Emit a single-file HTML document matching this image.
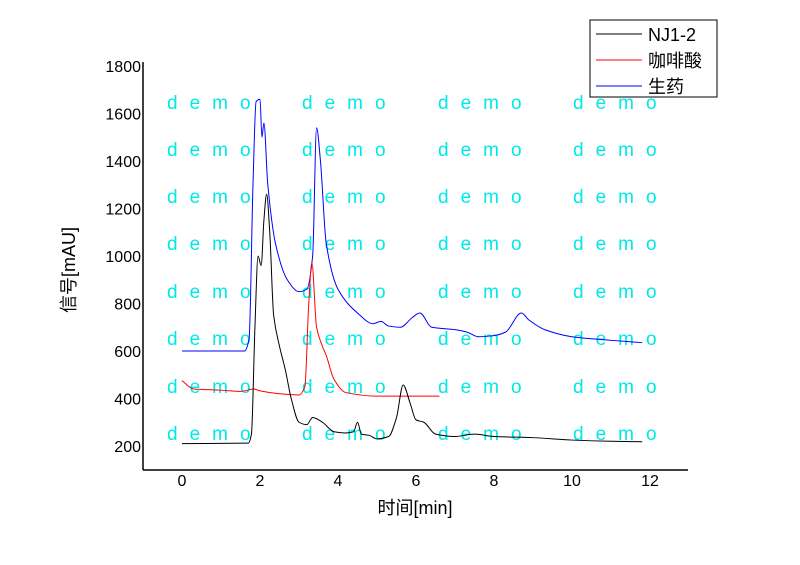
<!DOCTYPE html>
<html><head><meta charset="utf-8"><style>
body{margin:0;background:#fff}
svg{display:block;font-family:"Liberation Sans","Noto Sans CJK SC",sans-serif}
</style></head><body>
<svg id="c" width="800" height="565">
<g id="wm"></g>
<g id="series"></g>
<line x1="143" y1="62" x2="143" y2="470" stroke="#000" stroke-width="1.5"/>
<line x1="143" y1="470" x2="688" y2="470" stroke="#000" stroke-width="1.5"/>
<g id="yt" font-size="16" text-anchor="end"></g>
<g id="xt" font-size="16" text-anchor="middle"></g>
<text x="75" y="270" font-size="18" text-anchor="middle" transform="rotate(-90 75 270)">信号[mAU]</text>
<text x="415" y="514" font-size="18" text-anchor="middle">时间[min]</text>
<g>
<rect x="590" y="20" width="127" height="77" fill="#fff" stroke="#000"/>
<line x1="596" y1="34" x2="642" y2="34" stroke="#000"/>
<text x="648" y="41" font-size="18">NJ1-2</text>
<line x1="596" y1="60" x2="642" y2="60" stroke="red"/>
<text x="648" y="67" font-size="18">咖啡酸</text>
<line x1="596" y1="86" x2="642" y2="86" stroke="blue"/>
<text x="648" y="93" font-size="18">生药</text>
</g>
</svg>
<script>
const xTicks=[0,2,4,6,8,10,12];
const yTicks=[200,400,600,800,1000,1200,1400,1600,1800];
const njT=[0,1.7,1.78,1.87,1.95,2.03,2.1,2.17,2.25,2.35,2.5,2.65,2.8,3.0,3.2,3.35,3.6,3.9,4.2,4.4,4.5,4.6,4.8,5.0,5.3,5.5,5.67,5.85,6.0,6.2,6.5,7.0,7.5,8,9,10,11,11.8];
const njV=[210,212,250,700,1000,960,1150,1260,1100,750,620,520,400,300,290,320,300,260,255,260,300,250,245,230,240,320,457,380,310,300,250,240,250,240,235,225,220,218];
const caT=[0,0.3,1,1.5,1.85,2,2.5,3.0,3.15,3.25,3.33,3.45,3.6,3.7,3.9,4.2,5,6.6];
const caV=[475,440,435,430,440,432,420,415,450,800,970,700,620,580,480,425,410,410];
const heT=[0,1.6,1.72,1.82,1.9,2.0,2.05,2.1,2.2,2.4,2.7,3.0,3.2,3.35,3.45,3.55,3.7,4.0,4.5,4.9,5.1,5.3,5.6,5.9,6.1,6.4,7.0,7.3,7.6,8.0,8.3,8.7,8.9,9.3,10,11,11.8];
const heV=[600,600,650,1300,1650,1660,1500,1560,1300,1050,900,850,860,1000,1540,1400,1050,860,760,715,725,705,700,740,760,700,690,680,660,665,680,760,730,690,660,645,635];
const NS='http://www.w3.org/2000/svg';
const sx=t=>182+t*39, sy=v=>446-(v-200)*0.2375;
const yt=document.getElementById('yt'),xt=document.getElementById('xt');
yTicks.forEach(v=>{const e=document.createElementNS(NS,'text');e.setAttribute('x',141);e.setAttribute('y',sy(v)+6);e.textContent=v;


yt.appendChild(e);});
xTicks.forEach(v=>{const e=document.createElementNS(NS,'text');e.setAttribute('x',sx(v));e.setAttribute('y',486);e.textContent=v;


xt.appendChild(e);});
function path(T,V){const p=T.map((t,i)=>[sx(t),sy(V[i])]);const n=p.length;
const d=[],m=[];for(let i=0;i<n-1;i++)d.push((p[i+1][1]-p[i][1])/(p[i+1][0]-p[i][0]));
for(let i=0;i<n;i++){if(i==0)m.push(d[0]);else if(i==n-1)m.push(d[n-2]);else if(d[i-1]*d[i]<=0)m.push(0);else m.push(2/(1/d[i-1]+1/d[i]));}
let s='M'+p[0][0]+','+p[0][1];
for(let i=0;i<n-1;i++){const h=(p[i+1][0]-p[i][0])/3;
s+=` C${p[i][0]+h},${p[i][1]+m[i]*h} ${p[i+1][0]-h},${p[i+1][1]-m[i+1]*h} ${p[i+1][0]},${p[i+1][1]}`;}return s;}
const sg=document.getElementById('series');
[[heT,heV,'blue','series-herb'],[caT,caV,'red','series-caffeic'],[njT,njV,'#000','series-nj1-2']].forEach(s=>{
const e=document.createElementNS(NS,'path');e.setAttribute('d',path(s[0],s[1]));e.setAttribute('fill','none');e.setAttribute('stroke',s[2]);e.setAttribute('stroke-width','1');


sg.appendChild(e);});
const wm=document.getElementById('wm');
[102,149,196,243,291,338,386,433].forEach(y=>[167,302,438,573].forEach(x=>{const e=document.createElementNS(NS,'text');
e.setAttribute('x',x);e.setAttribute('y',y+7);e.setAttribute('fill','#00e8e8');e.setAttribute('font-size','19');e.setAttribute('letter-spacing','12');e.textContent='demo';


wm.appendChild(e);}));
</script>
</body></html>
